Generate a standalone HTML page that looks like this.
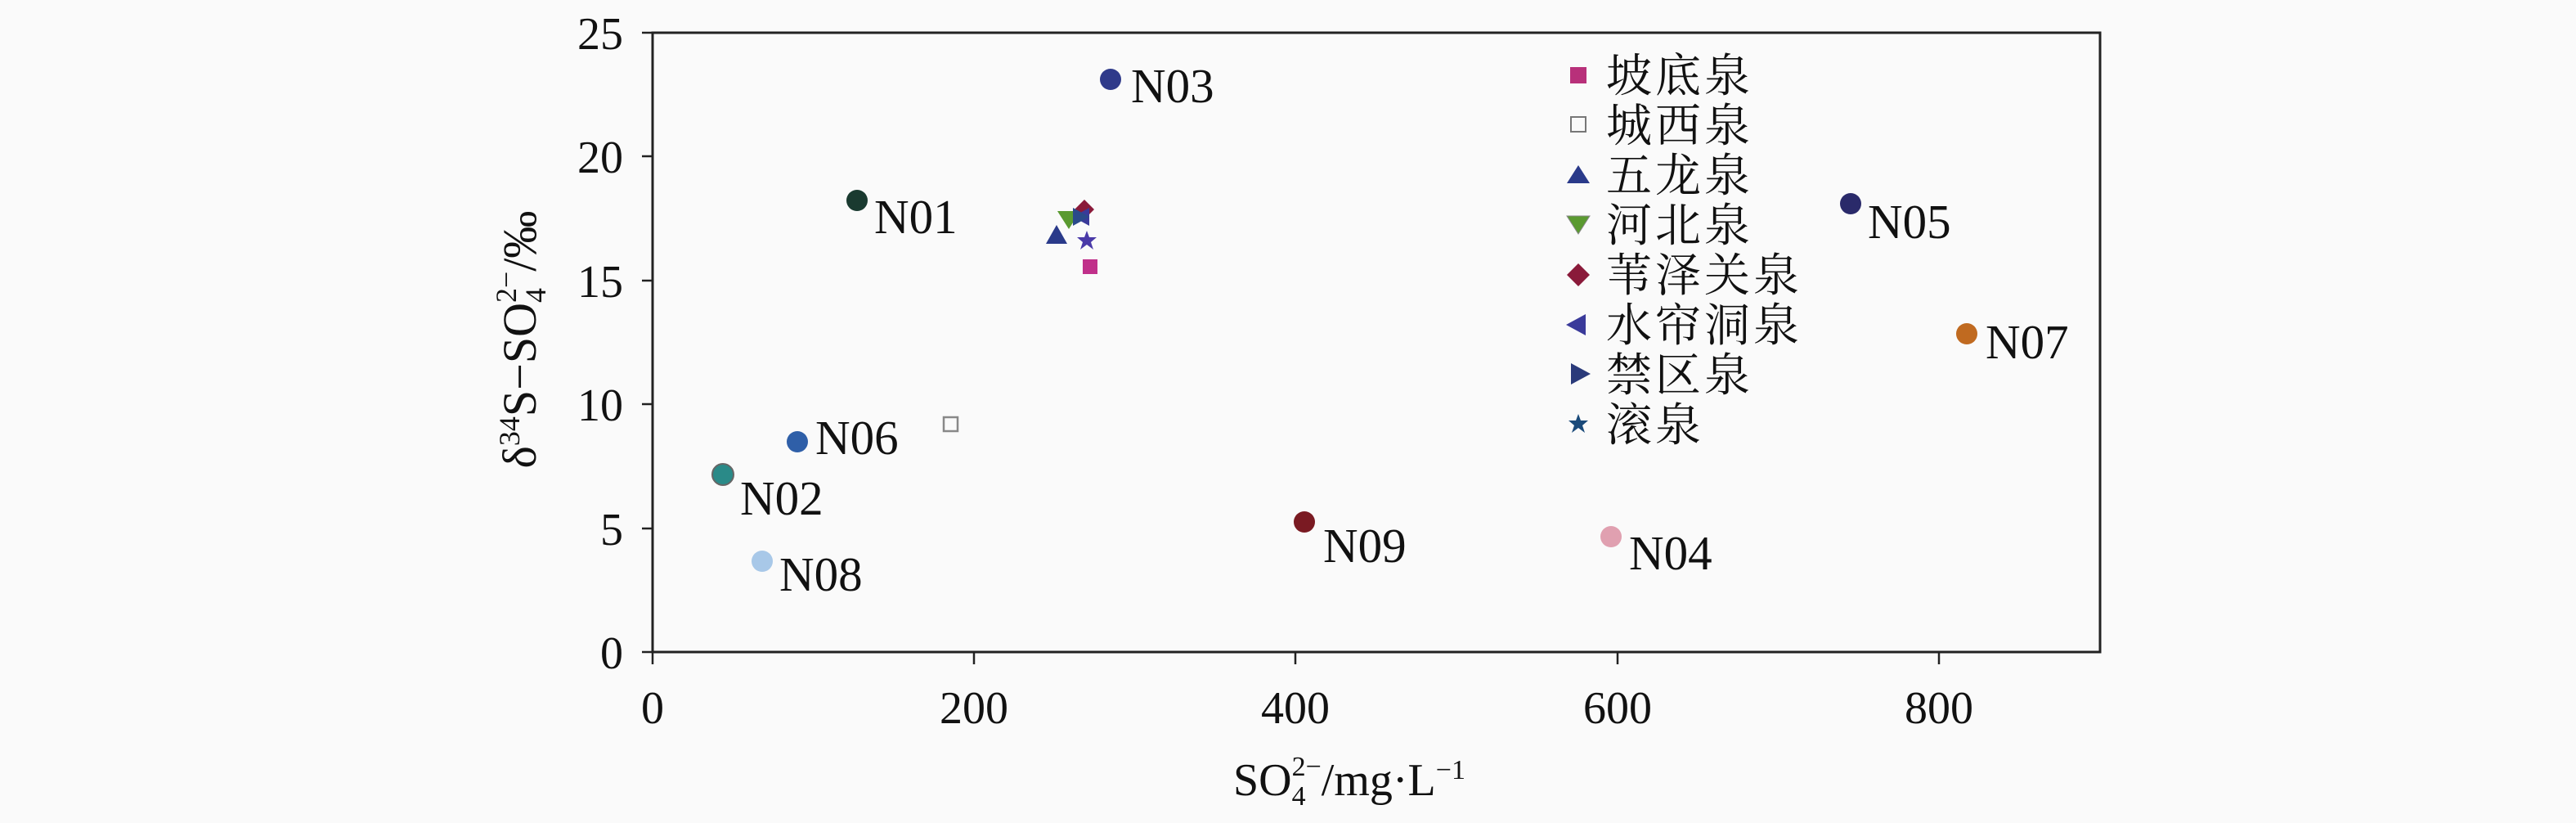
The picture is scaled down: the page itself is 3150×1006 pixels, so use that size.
<!DOCTYPE html>
<html><head><meta charset="utf-8"><style>
html,body{margin:0;padding:0;background:#fafafa;}
svg{display:block;}
text{font-family:"Liberation Serif","Noto Serif CJK SC",serif;fill:#111;}
.cj{font-family:"Liberation Serif","Noto Serif CJK SC","Noto Sans CJK SC",serif;}
</style></head><body>
<svg width="3150" height="1006" viewBox="0 0 3150 1006" xmlns="http://www.w3.org/2000/svg">
<rect width="3150" height="1006" fill="#fafafa"/>
<rect x="798" y="40" width="1770" height="757" fill="none" stroke="#222" stroke-width="3"/>
<g stroke="#222" stroke-width="2.5">
<line x1="785" y1="797" x2="798" y2="797"/><line x1="785" y1="646" x2="798" y2="646"/>
<line x1="785" y1="494" x2="798" y2="494"/><line x1="785" y1="343" x2="798" y2="343"/>
<line x1="785" y1="191" x2="798" y2="191"/><line x1="785" y1="40" x2="798" y2="40"/>
<line x1="798" y1="797" x2="798" y2="812"/><line x1="1191" y1="797" x2="1191" y2="812"/>
<line x1="1584" y1="797" x2="1584" y2="812"/><line x1="1978" y1="797" x2="1978" y2="812"/>
<line x1="2371" y1="797" x2="2371" y2="812"/>
</g>
<g font-size="56" text-anchor="end">
<text x="762" y="817">0</text><text x="762" y="666">5</text><text x="762" y="514">10</text>
<text x="762" y="363">15</text><text x="762" y="211">20</text><text x="762" y="60">25</text>
</g>
<g font-size="56" text-anchor="middle">
<text x="798" y="884">0</text><text x="1191" y="884">200</text><text x="1584" y="884">400</text>
<text x="1978" y="884">600</text><text x="2371" y="884">800</text>
</g>
<text x="1508" y="972" font-size="56">SO<tspan font-size="34" dy="12">4</tspan><tspan font-size="34" dx="-17" dy="-36">2−</tspan><tspan dy="24">/mg·L</tspan><tspan font-size="34" dy="-20">−1</tspan></text>
<text transform="translate(655,415) rotate(-90)" text-anchor="middle" font-size="58">δ<tspan font-size="36" dy="-20">34</tspan><tspan dy="20">S−SO</tspan><tspan font-size="36" dy="12">4</tspan><tspan font-size="36" dx="-18" dy="-36">2−</tspan><tspan dy="24">/‰</tspan></text>
<circle cx="1048" cy="245" r="13" fill="#1a3a30"/>
<circle cx="1358" cy="97" r="13" fill="#2f3a8a"/>
<circle cx="975" cy="540" r="13" fill="#2f5fa8"/>
<circle cx="884" cy="580" r="13" fill="#2a8a88" stroke="#666" stroke-width="2"/>
<circle cx="932" cy="686" r="13" fill="#a8c8e8"/>
<circle cx="1595" cy="638" r="13" fill="#7a1a22"/>
<circle cx="1970" cy="656" r="13" fill="#e0a0b0"/>
<circle cx="2263" cy="249" r="13" fill="#2a2a6a"/>
<circle cx="2405" cy="408" r="13" fill="#c06a20"/>
<rect x="1154" y="510" width="17" height="17" fill="none" stroke="#888" stroke-width="2.5"/>
<polygon points="1307,280 1293,258 1321,258" fill="#5a9a30"/>
<polygon points="1292,275 1305,298 1279,298" fill="#2a3a8a"/>
<polygon points="1326,244 1338,256 1326,268 1314,256" fill="#8a1a3a"/>
<polygon points="1312,265 1332,254 1332,276" fill="#3a3a9a"/>
<polygon points="1332,265 1312,254 1312,276" fill="#2a4a8a"/>
<polygon points="1329,282 1332,290 1341,290 1334,296 1337,305 1329,299 1321,305 1324,296 1317,290 1326,290" fill="#4a3aa8"/>
<rect x="1324" y="317" width="18" height="18" fill="#c0308a"/>
<g font-size="59">
<text x="1069" y="285">N01</text><text x="1383" y="125">N03</text><text x="997" y="555">N06</text>
<text x="905" y="629">N02</text><text x="953" y="722">N08</text><text x="1618" y="687">N09</text>
<text x="1992" y="696">N04</text><text x="2284" y="291">N05</text><text x="2428" y="438">N07</text>
</g>
<rect x="1920" y="82" width="20" height="20" fill="#b8307a"/>
<rect x="1921" y="143" width="18" height="18" fill="none" stroke="#777" stroke-width="2"/>
<polygon points="1930,202 1944,224 1916,224" fill="#2a3a8a"/>
<polygon points="1930,286 1916,264 1944,264" fill="#5a9a30" stroke="#888" stroke-width="1"/>
<polygon points="1930,322 1944,336 1930,350 1916,336" fill="#8a1a3a"/>
<polygon points="1915,397 1939,384 1939,410" fill="#3a3a9a"/>
<polygon points="1945,457 1921,444 1921,470" fill="#2a3a7a"/>
<polygon points="1930,506 1933,514 1942,514 1935,520 1938,529 1930,523 1922,529 1925,520 1918,514 1927,514" fill="#1a4a7a"/>
<g class="cj" font-size="56" letter-spacing="4">
<text x="1964" y="112" fill="#b03060">坡底泉</text>
<text x="1964" y="173" fill="#5a9a40">城西泉</text>
<text x="1964" y="234" fill="#333366">五龙泉</text>
<text x="1964" y="295" fill="#777">河北泉</text>
<text x="1964" y="356" fill="#8a2040">苇泽关泉</text>
<text x="1964" y="417" fill="#333355">水帘洞泉</text>
<text x="1964" y="478" fill="#333366">禁区泉</text>
<text x="1964" y="539" fill="#333366">滚泉</text>
</g>
</svg>
</body></html>
